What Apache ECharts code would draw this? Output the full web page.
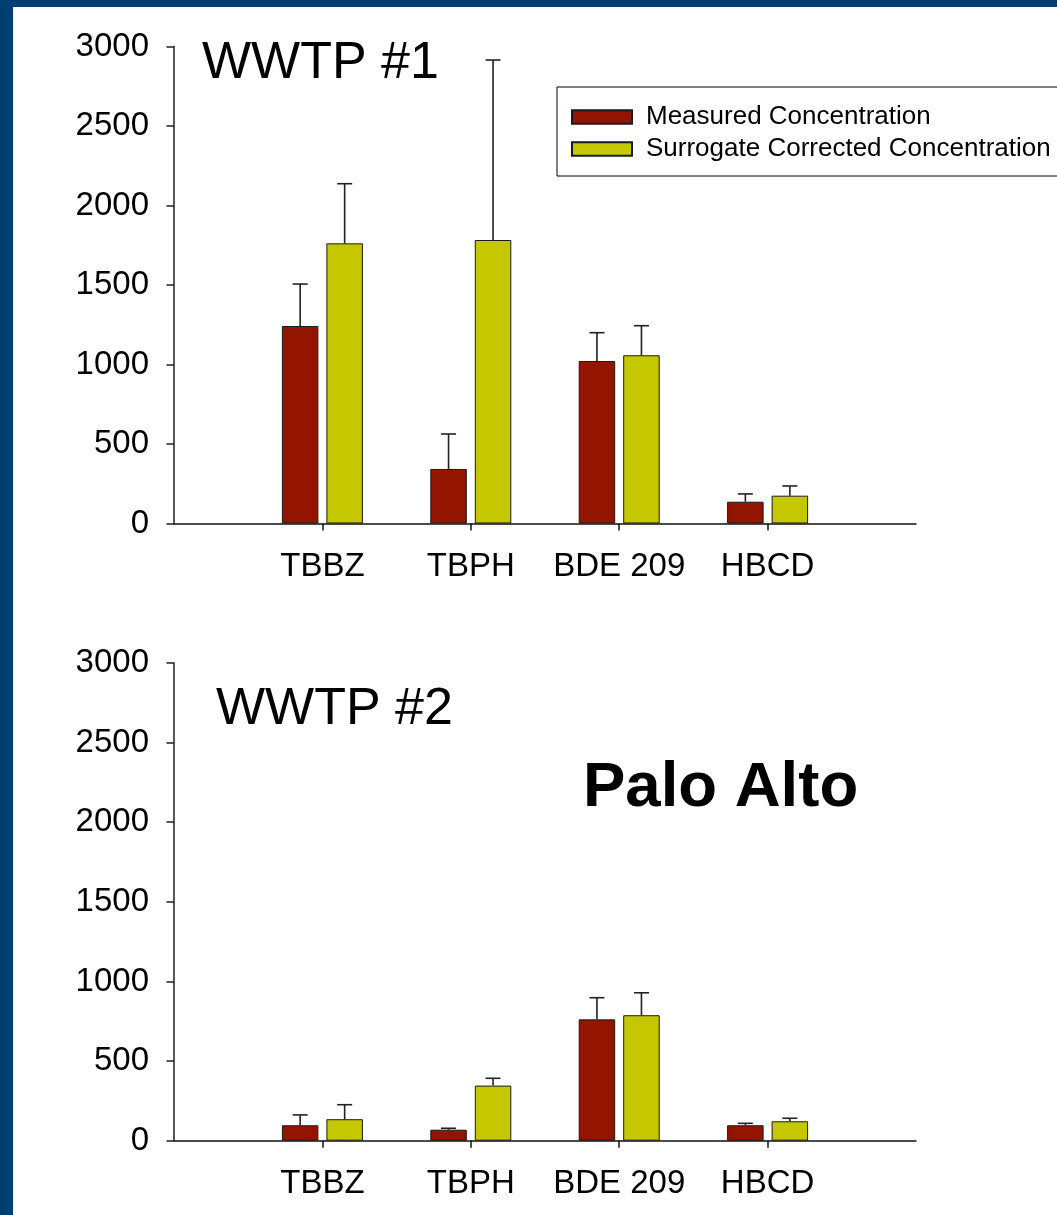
<!DOCTYPE html>
<html>
<head>
<meta charset="utf-8">
<script src="https://cdn.jsdelivr.net/npm/echarts@6/dist/echarts.min.js"></script>
<style>
html,body{margin:0;padding:0;background:#fff;}
#chart{width:1057px;height:1215px;}
</style>
</head>
<body>
<div id="chart"></div>
<script>
// ---- data ----
const categories = ['TBBZ', 'TBPH', 'BDE 209', 'HBCD'];
const seriesNames = ['Measured Concentration', 'Surrogate Corrected Concentration'];
const yMin = 0, yMax = 3000, yStep = 500;

const wwtp1Measured      = [1242, 343, 1022, 137];
const wwtp1MeasuredUpper = [1506, 563, 1200, 186];
const wwtp1Surrogate      = [1762, 1783, 1058, 175];
const wwtp1SurrogateUpper = [2137, 2915, 1244, 236];

const wwtp2Measured      = [97, 69, 762, 97];
const wwtp2MeasuredUpper = [162, 78, 898, 109];
const wwtp2Surrogate      = [135, 346, 788, 122];
const wwtp2SurrogateUpper = [226, 392, 929, 141];

const panelTitles = ['WWTP #1', 'WWTP #2'];
const siteLabel = 'Palo Alto';

// ---- styles ----
const FONT = "'Liberation Sans', Arial, sans-serif";
const RED = '#931500';
const YEL = '#C5C800';
const BAR_W = 36.5;
const BAR_GAP_PX = 8;
const OFF = (BAR_W + BAR_GAP_PX) / 2;

const axisCats = [''].concat(categories, ['']);
function pad(arr) { return ['-'].concat(arr, ['-']); }
function errData(vals, ups) {
  return vals.map((v, i) => [i + 1, v, ups[i]]);
}

const chart = echarts.init(document.getElementById('chart'), null, {renderer: 'canvas'});

function errSeries(idx, vals, ups, off) {
  return {
    type: 'custom',
    xAxisIndex: idx, yAxisIndex: idx,
    data: errData(vals, ups),
    encode: {x: 0, y: [1, 2]},
    silent: true,
    z: 3,
    renderItem: function (params, api) {
      const base = api.coord([api.value(0), api.value(1)]);
      const top = api.coord([api.value(0), api.value(2)]);
      const x = base[0] + off;
      const st = {stroke: '#222', lineWidth: 1.6};
      return {
        type: 'group',
        children: [
          {type: 'line', shape: {x1: x, y1: base[1], x2: x, y2: top[1]}, style: st},
          {type: 'line', shape: {x1: x - 7.5, y1: top[1], x2: x + 7.5, y2: top[1]}, style: st}
        ]
      };
    }
  };
}

function barSeries(idx, name, vals, color) {
  return {
    type: 'bar', name: name,
    xAxisIndex: idx, yAxisIndex: idx,
    data: pad(vals),
    barWidth: BAR_W,
    barGap: (BAR_GAP_PX / BAR_W * 100) + '%',
    itemStyle: {color: color, borderColor: '#1a1a1a', borderWidth: 1},
    z: 2
  };
}

const grids = [
  {left: 174, top: 46.5, width: 742, height: 477},
  {left: 174, top: 663, width: 742, height: 477.7}
];

function xAxis(idx) {
  return {
    type: 'category', gridIndex: idx, data: axisCats, boundaryGap: false,
    axisLine: {lineStyle: {color: '#111', width: 1.5}},
    axisTick: {show: true, length: 7, lineStyle: {color: '#111', width: 1.5},
      interval: function (i, v) { return v !== ''; }},
    axisLabel: {interval: 0, margin: 27, color: '#000', fontFamily: FONT, fontSize: 33, lineHeight: 33},
    splitLine: {show: false}
  };
}
function yAxis(idx) {
  return {
    type: 'value', gridIndex: idx, min: yMin, max: yMax, interval: yStep,
    axisLine: {show: true, lineStyle: {color: '#222', width: 1.5}},
    axisTick: {show: true, length: 7.5, lineStyle: {color: '#222', width: 1.5}},
    axisLabel: {margin: 25, color: '#000', fontFamily: FONT, fontSize: 33,
      formatter: function (v) { return String(v); }},
    splitLine: {show: false}
  };
}

const option = {
  backgroundColor: '#fff',
  animation: false,
  textStyle: {fontFamily: FONT},
  title: [
    {text: panelTitles[0], left: 202, top: 37.5, padding: 0,
      textStyle: {fontFamily: FONT, fontSize: 52, fontWeight: 'normal', color: '#000', lineHeight: 52}},
    {text: panelTitles[1], left: 216, top: 684, padding: 0,
      textStyle: {fontFamily: FONT, fontSize: 52, fontWeight: 'normal', color: '#000', lineHeight: 52}},
    {text: siteLabel, left: 583, top: 757, padding: 0,
      textStyle: {fontFamily: FONT, fontSize: 63.5, fontWeight: 'bold', color: '#000', lineHeight: 63.5}}
  ],
  legend: {
    data: seriesNames,
    orient: 'vertical',
    left: 557, top: 87,
    padding: [17, 14, 14, 14],
    itemWidth: 60, itemHeight: 13.5,
    itemGap: 6,
    icon: 'rect',
    borderColor: '#000', borderWidth: 1,
    backgroundColor: '#fff',
    selectedMode: false,
    textStyle: {fontFamily: FONT, fontSize: 26, lineHeight: 26, color: '#000', padding: [0, 0, 0, 9]}
  },
  grid: grids,
  xAxis: [xAxis(0), xAxis(1)],
  yAxis: [yAxis(0), yAxis(1)],
  series: [
    barSeries(0, seriesNames[0], wwtp1Measured, RED),
    barSeries(0, seriesNames[1], wwtp1Surrogate, YEL),
    errSeries(0, wwtp1Measured, wwtp1MeasuredUpper, -OFF),
    errSeries(0, wwtp1Surrogate, wwtp1SurrogateUpper, OFF),
    barSeries(1, seriesNames[0], wwtp2Measured, RED),
    barSeries(1, seriesNames[1], wwtp2Surrogate, YEL),
    errSeries(1, wwtp2Measured, wwtp2MeasuredUpper, -OFF),
    errSeries(1, wwtp2Surrogate, wwtp2SurrogateUpper, OFF)
  ],
  graphic: [
    {type: 'rect', left: 0, top: 0, z: 100, silent: true,
      shape: {x: 0, y: 0, width: 13, height: 1215}, style: {fill: '#003F72'}},
    {type: 'rect', left: 0, top: 0, z: 100, silent: true,
      shape: {x: 0, y: 0, width: 1057, height: 7}, style: {fill: '#003F72'}}
  ]
};
chart.setOption(option);
</script>
</body>
</html>
